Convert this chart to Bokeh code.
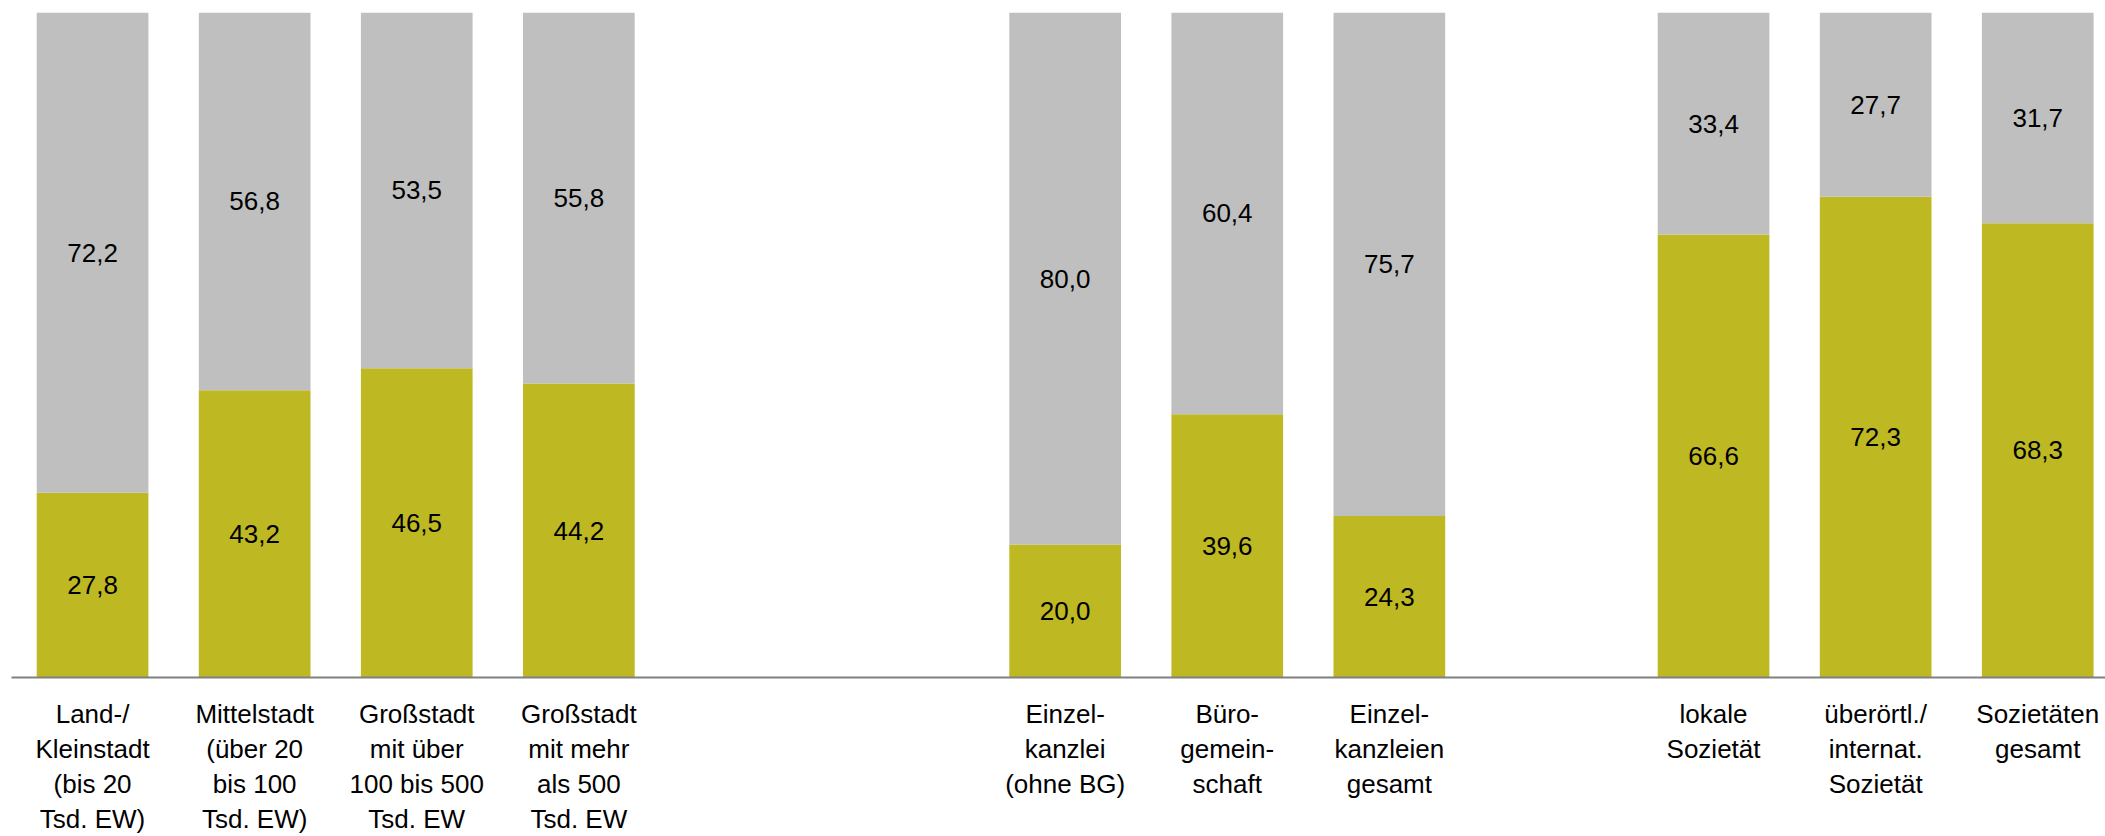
from bokeh.plotting import figure
from bokeh.models import ColumnDataSource, Range1d, FixedTicker
from bokeh.core.properties import value
from bokeh.embed import file_html
from bokeh.resources import INLINE

# ---- data -------------------------------------------------------------
group_ortsgroesse = [
    "Land-/\nKleinstadt\n(bis 20\nTsd. EW)",
    "Mittelstadt\n(über 20\nbis 100\nTsd. EW)",
    "Großstadt\nmit über\n100 bis 500\nTsd. EW",
    "Großstadt\nmit mehr\nals 500\nTsd. EW",
]
group_einzel = [
    "Einzel-\nkanzlei\n(ohne BG)",
    "Büro-\ngemein-\nschaft",
    "Einzel-\nkanzleien\ngesamt",
]
group_sozietaet = [
    "lokale\nSozietät",
    "überörtl./\ninternat.\nSozietät",
    "Sozietäten\ngesamt",
]
series_lower = [27.8, 43.2, 46.5, 44.2, 20.0, 39.6, 24.3, 66.6, 72.3, 68.3]
series_upper = [72.2, 56.8, 53.5, 55.8, 80.0, 60.4, 75.7, 33.4, 27.7, 31.7]

# ---- layout constants ---------------------------------------------------
GROUPS = [group_ortsgroesse, group_einzel, group_sozietaet]
GAP_BEFORE = [0, 2, 1]          # empty category slots before each group
PITCH_PX = 162.1                # pixel width of one category slot
BAR_W = 0.689
W, H = 2105, 836
LEFT, TOP = 11, 12
FRAME_H = 665
COL_LOWER = "#BEB822"
COL_UPPER = "#BFBFBF"
FONT = "Liberation Sans"

# category slot positions derived from the group structure
labels, xs = [], []
slot = 0
for g, gap in zip(GROUPS, GAP_BEFORE):
    slot += gap
    for lab in g:
        labels.append(lab)
        xs.append(slot)
        slot += 1

fmt = lambda v: f"{v:.1f}".replace(".", ",")
src = ColumnDataSource(dict(
    x=xs,
    lower=series_lower,
    upper=series_upper,
    lower_mid=[a / 2 for a in series_lower],
    upper_mid=[a + b / 2 for a, b in zip(series_lower, series_upper)],
    lower_txt=[fmt(v) for v in series_lower],
    upper_txt=[fmt(v) for v in series_upper],
))

frame_w = W - LEFT
p = figure(width=W, height=H, output_backend="svg", toolbar_location=None,
           x_range=Range1d(-0.5, -0.5 + frame_w / PITCH_PX),
           y_range=Range1d(0, 100),
           min_border_left=LEFT, min_border_right=0, min_border_top=TOP,
           min_border_bottom=H - TOP - FRAME_H)
p.outline_line_color = None
p.background_fill_color = "white"
p.border_fill_color = "white"
p.grid.visible = False
p.yaxis.visible = False

p.vbar_stack(["lower", "upper"], x="x", width=BAR_W, color=[COL_LOWER, COL_UPPER],
             line_color=None, source=src)

for ycol, tcol in (("lower_mid", "lower_txt"), ("upper_mid", "upper_txt")):
    p.text(x="x", y=ycol, text=tcol, source=src, text_align="center",
           text_baseline="middle", text_font=value(FONT),
           text_font_size="26px", text_color="black")

ax = p.xaxis[0]
ax.ticker = FixedTicker(ticks=xs)
ax.major_label_overrides = {x: lab for x, lab in zip(xs, labels)}
ax.axis_line_color = "#808080"
ax.axis_line_width = 2
ax.major_tick_line_color = None
ax.minor_tick_line_color = None
ax.major_tick_out = 0
ax.major_tick_in = 0
ax.major_label_standoff = 21
ax.major_label_text_font = FONT
ax.major_label_text_font_size = "26px"
ax.major_label_text_color = "black"
ax.major_label_text_line_height = 1.17

open("out.html", "w").write(file_html(p, INLINE))
